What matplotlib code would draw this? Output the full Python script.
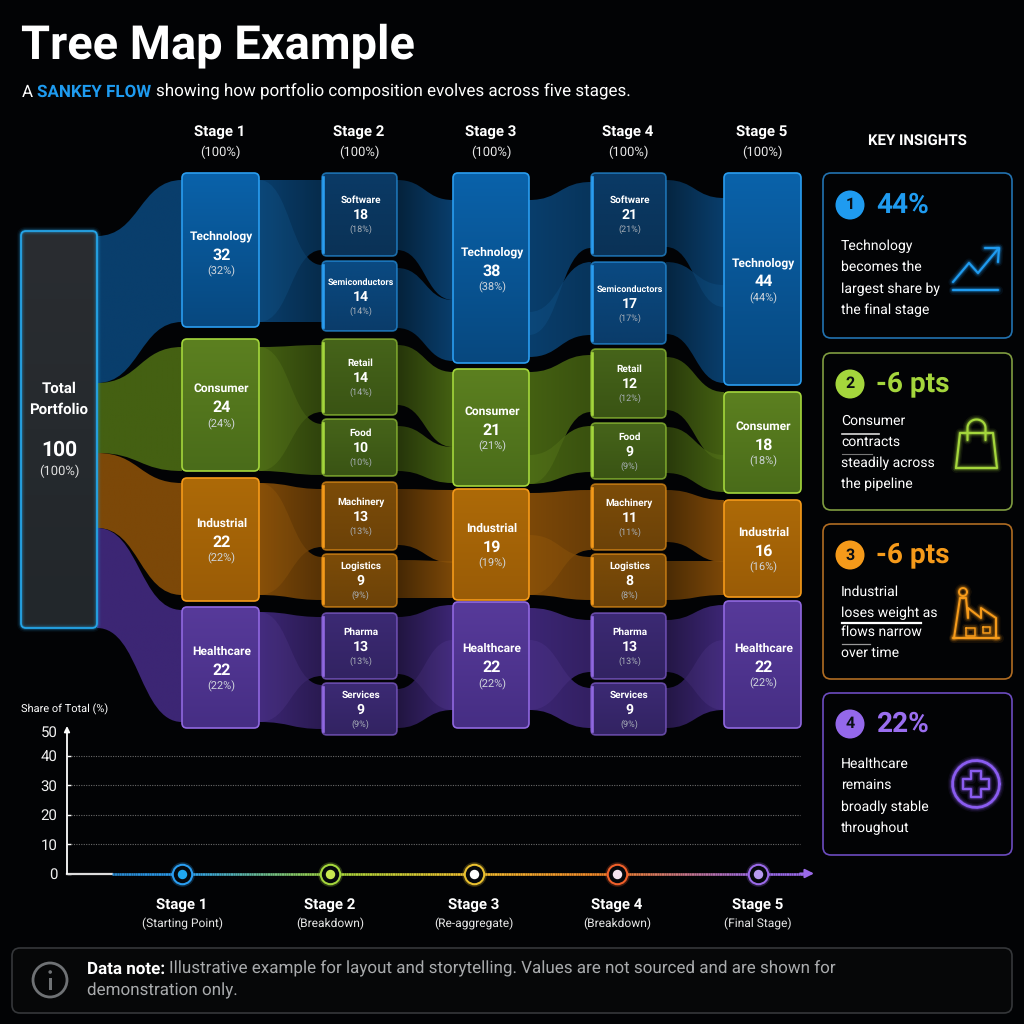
import numpy as np
import matplotlib
matplotlib.use('Agg')
import matplotlib.pyplot as plt
from matplotlib.path import Path
from matplotlib.patches import PathPatch, FancyBboxPatch, Circle, Rectangle
from matplotlib.collections import LineCollection
from matplotlib.colors import LinearSegmentedColormap, to_rgb
from matplotlib.transforms import ScaledTranslation

plt.rcParams['text.hinting'] = 'no_hinting'
plt.rcParams['text.hinting_factor'] = 1

# values
stage_names = ['Stage 1', 'Stage 2', 'Stage 3', 'Stage 4', 'Stage 5']
stage_totals = [100, 100, 100, 100, 100]
stage_notes = ['(Starting Point)', '(Breakdown)', '(Re-aggregate)', '(Breakdown)', '(Final Stage)']
sector_names = ['Technology', 'Consumer', 'Industrial', 'Healthcare']
sub_names = ['Software', 'Semiconductors', 'Retail', 'Food', 'Machinery', 'Logistics', 'Pharma', 'Services']
stage1_values = [32, 24, 22, 22]
stage2_values = [18, 14, 14, 10, 13, 9, 13, 9]
stage3_values = [38, 21, 19, 22]
stage4_values = [21, 17, 12, 9, 11, 8, 13, 9]
stage5_values = [44, 18, 16, 22]
total_value = 100
axis_ticks = [0, 10, 20, 30, 40, 50]

insight_heads = ['44%', '-6 pts', '-6 pts', '22%']
insight_lines = [['Technology', 'becomes the', 'largest share by', 'the final stage'],
                 ['Consumer', 'contracts', 'steadily across', 'the pipeline'],
                 ['Industrial', 'loses weight as', 'flows narrow', 'over time'],
                 ['Healthcare', 'remains', 'broadly stable', 'throughout']]

# layout in pixels of the 1024 canvas
FONT = ['Roboto', 'DejaVu Sans']
PX = 0.72
BG = '#020305'
BLUE, GREEN, ORANGE, PURPLE = '#2a9df0', '#a4d63c', '#f59a1a', '#9068e0'
SECTOR_COLORS = [BLUE, GREEN, ORANGE, PURPLE]
FLOW_COLORS = [(9, 62, 108), (68, 96, 18), (124, 72, 8), (60, 38, 116)]
COL_X = [(182, 259), (322, 397), (453, 529), (591, 666), (724, 801)]
HEAD_X = [220, 359, 491, 628, 762]
BIG_BOX = [[(173, 327), (339, 471), (478, 601), (607, 728)],
           None,
           [(173, 363), (369, 486), (489, 600), (602, 728)],
           None,
           [(173, 385), (392, 493), (500, 597), (601, 728)]]
SUB_BOX = {1: [(173, 256), (261, 331), (339, 415), (419, 476), (482, 550), (554, 607), (613, 679), (683, 735)],
           3: [(173, 256), (262, 344), (349, 418), (423, 479), (484, 550), (554, 607), (613, 679), (683, 735)]}
BIG_FILL = [('#0a62aa', '#07487f'), ('#5c8020', '#4a6c1a'), ('#ad6a08', '#9a5c06'), ('#573a9a', '#462e84')]
SUB_FILL = [('#0a3a66', '#0a3256'), ('#0a4a82', '#0a3c6a'), ('#46641a', '#3a5414'), ('#46641a', '#3a5414'),
            ('#7c4c08', '#6c4208'), ('#7c4c08', '#6c4208'), ('#3c2a74', '#322362'), ('#3c2a74', '#322362')]

# flow bands: colour index, x0, x1, left top, left bottom, right top, right bottom
SINGLE_FLOWS = [(0, 97, 182, 236, 383, 180, 322), (1, 97, 182, 383, 453, 347, 471),
                (2, 97, 182, 453, 528, 483, 595), (3, 97, 182, 528, 628, 610, 722)]
# pairs that leave or enter the same node, with the brightness at left and right
PAIR_FLOWS = [
    (1.0, 0.7, [(0, 259, 322, 180, 322, 180, 250), (0, 259, 322, 180, 322, 265, 322),
                (1, 259, 322, 347, 471, 345, 412), (1, 259, 322, 347, 471, 424, 475),
                (2, 259, 322, 483, 595, 489, 547), (2, 259, 322, 483, 595, 557, 600),
                (3, 259, 322, 612, 722, 617, 676), (3, 259, 322, 612, 722, 685, 729)]),
    (0.55, 1.0, [(0, 397, 453, 180, 250, 200, 300), (0, 397, 453, 268, 328, 300, 361),
                 (1, 397, 453, 345, 405, 372, 447), (1, 397, 453, 426, 471, 447, 483),
                 (2, 397, 453, 489, 545, 490, 563), (2, 397, 453, 560, 598, 561, 598),
                 (3, 397, 453, 617, 674, 605, 710), (3, 397, 453, 689, 728, 640, 710)]),
    (1.0, 0.85, [(0, 529, 591, 200, 335, 182, 248), (0, 529, 591, 312, 357, 262, 335),
                 (1, 529, 591, 372, 484, 355, 412), (1, 529, 591, 455, 484, 426, 472),
                 (2, 529, 591, 493, 595, 490, 550), (2, 529, 591, 535, 595, 557, 600),
                 (3, 529, 591, 608, 710, 620, 672), (3, 529, 591, 640, 710, 688, 728)]),
    (0.6, 1.0, [(0, 666, 724, 180, 247, 198, 307), (0, 666, 724, 262, 334, 285, 383),
                (1, 666, 724, 357, 410, 392, 460), (1, 666, 724, 427, 473, 455, 492),
                (2, 666, 724, 490, 542, 500, 562), (2, 666, 724, 561, 600, 561, 595),
                (3, 666, 724, 620, 672, 605, 710), (3, 666, 724, 688, 728, 640, 710)]),
]

CARDS = [(173, 338), (353, 510), (524, 679), (693, 855)]
CARD_EDGE = ['#2272b0', '#7f9c40', '#b06c22', '#6c4cc0']
HEAD_COL = ['#1f9bf0', '#a4d63c', '#f59a1a', '#9a6ef0']
BADGE_Y = [205, 384, 555, 724]
LINE_Y = [[246, 267, 289, 310], [421, 442, 463, 484], [592, 613, 632, 653], [764, 785, 807, 828]]

MARKER_X = [182, 330, 474, 617, 758]
MARKER_COL = ['#2a9df0', '#a4d63c', '#e8c030', '#f0602a', '#9a6ae8']
MARKER_DOT = ['#20a8f0', '#c8e850', '#ffffff', '#f4e4f0', '#b79af0']

fig = plt.figure(figsize=(10.24, 10.24), dpi=100, facecolor=BG)
ax = fig.add_axes([0, 0, 1, 1])
ax.set_facecolor(BG)
ax.axis('off')
ax.set_xlim(0, 1024)
ax.set_ylim(1024, 0)


def txt(x, y, s, px, color='white', weight='normal', ha='center', **kw):
    return ax.text(x, y + 1, s, fontsize=px * PX, color=color, fontweight=weight, ha=ha, va='center',
                   family=FONT, **kw)


def run_text(x, y, parts, px):
    # several pieces of text in a row with their own colours
    rend = fig.canvas.get_renderer()
    for s, color, weight in parts:
        t = txt(x, y, s, px, color, weight, ha='left')
        x += t.get_window_extent(rend).width


def gradient_clip(patch, x0, x1, y0, y1, c0, c1, vertical=False, z=1):
    c0, c1 = np.array(c0), np.array(c1)
    t = np.linspace(0, 1, 64)[:, None]
    img = c0 + (c1 - c0) * t
    img = img[:, None, :] if vertical else img[None, :, :]
    im = ax.imshow(img, extent=(x0, x1, y1, y0), aspect='auto', zorder=z, interpolation='bilinear')
    patch.set_transform(ax.transData)
    im.set_clip_path(patch)
    return im


def band_path(x0, x1, lt, lb, rt, rb):
    mid = (x0 + x1) / 2
    verts = [(x0, lt), (mid, lt), (mid, rt), (x1, rt), (x1, rb), (mid, rb), (mid, lb), (x0, lb), (x0, lt)]
    codes = [Path.MOVETO, Path.CURVE4, Path.CURVE4, Path.CURVE4, Path.LINETO, Path.CURVE4, Path.CURVE4, Path.CURVE4,
             Path.CLOSEPOLY]
    return Path(verts, codes)


def band(flow, left=1.0, right=1.0):
    i, x0, x1, lt, lb, rt, rb = flow
    base = np.array(FLOW_COLORS[i]) / 255
    p = PathPatch(band_path(x0, x1, lt, lb, rt, rb), fc='none', ec='none')
    gradient_clip(p, x0, x1, min(lt, rt) - 1, max(lb, rb) + 1, base * left, base * right, z=1)


def lens(a, b):
    # where two bands of a pair overlap the colour only lifts a little
    pa = PathPatch(band_path(*a[1:]), fc=SECTOR_COLORS[a[0]], ec='none', alpha=0.1, zorder=1.5)
    ax.add_patch(pa)
    pb = PathPatch(band_path(*b[1:]), transform=ax.transData)
    pa.set_clip_path(pb)


def rbox(x0, y0, x1, y1, r=5):
    return FancyBboxPatch((x0 + r, y0 + r), x1 - x0 - 2 * r, y1 - y0 - 2 * r,
                          boxstyle='round,pad=%d,rounding_size=%d' % (r, r), fc='none', ec='none')


def glow(xs, ys, color, lw=1.6, z=6, strength=1.0):
    for w, al in [(lw + 5, 0.08), (lw + 3, 0.14), (lw + 1.4, 0.25)]:
        ax.plot(xs, ys, color=color, lw=w, alpha=al * strength, zorder=z, solid_capstyle='round', solid_joinstyle='round')
    ax.plot(xs, ys, color=color, lw=lw, zorder=z + 0.1, solid_capstyle='round', solid_joinstyle='round')


def node(x0, x1, y0, y1, fills, edge, left_bar=False, edge_alpha=1.0):
    gradient_clip(rbox(x0, y0, x1, y1), x0, x1, y0, y1, to_rgb(fills[0]), to_rgb(fills[1]), vertical=True, z=3)
    ax.add_patch(FancyBboxPatch((x0 + 5, y0 + 5), x1 - x0 - 10, y1 - y0 - 10, boxstyle='round,pad=5,rounding_size=5',
                                fc='none', ec=edge, lw=1.2, alpha=edge_alpha, zorder=4))
    if left_bar:
        ax.plot([x0 + 0.6, x0 + 0.6], [y0 + 4, y1 - 4], color=edge, lw=1.9, zorder=4.1)


def labels(cx, y0, y1, name, val, big, dy=0):
    c = (y0 + y1) / 2 + dy
    off = (-17, 2, 18) if big else (-15, 0, 14)
    if big:
        name_px = 12
    else:
        name_px = 9.5 if len(name) > 12 else 10.4
    txt(cx, c + off[0], name, name_px, 'white', 'bold', zorder=5)
    txt(cx, c + off[1], str(val), 16 if big else 13.5, 'white', 'bold', zorder=5)
    txt(cx, c + off[2], '(%d%%)' % val, 11 if big else 9.5, '#d0d6dc' if big else '#a9b0b8', zorder=5)


fig.canvas.draw()
txt(21, 45, 'Tree Map Example', 46.8, 'white', 'bold', ha='left')
run_text(22, 91, [('A ', 'white', 'normal'), ('SANKEY FLOW ', '#1e9bf0', 'bold'),
                  ('showing how portfolio composition evolves across five stages.', 'white', 'normal')], 17.2)

for x, name, tot in zip(HEAD_X, stage_names, stage_totals):
    txt(x, 131, name, 14.8, 'white', 'bold')
    txt(x, 151, '(%d%%)' % tot, 13, '#e8e8e8')
txt(917, 140, 'KEY INSIGHTS', 15, 'white', 'bold')

for f in SINGLE_FLOWS:
    band(f)
for left, right, flows in PAIR_FLOWS:
    for k in range(0, len(flows), 2):
        band(flows[k], left, right)
        band(flows[k + 1], left, right)
        lens(flows[k], flows[k + 1])

# total node
gradient_clip(rbox(21, 231, 97, 628), 21, 97, 231, 628, to_rgb('#2a2d31'), to_rgb('#22272b'), vertical=True, z=3)
for w, al in [(6, 0.06), (4, 0.12), (2.6, 0.22), (1.3, 1.0)]:
    ax.add_patch(FancyBboxPatch((26, 236), 66, 387, boxstyle='round,pad=5,rounding_size=5', fc='none',
                                ec='#25a5e8', lw=w, alpha=al, zorder=4))
txt(59, 388, 'Total', 14.6, 'white', 'bold', zorder=5)
txt(59, 409, 'Portfolio', 14.6, 'white', 'bold', zorder=5)
txt(59, 449, str(total_value), 21, 'white', 'bold', zorder=5)
txt(59, 470, '(%d%%)' % total_value, 12.5, '#e0e0e0', zorder=5)

big_values = {0: stage1_values, 2: stage3_values, 4: stage5_values}
sub_values = {1: stage2_values, 3: stage4_values}
for col, vals in big_values.items():
    x0, x1 = COL_X[col]
    for i, v in enumerate(vals):
        y0, y1 = BIG_BOX[col][i]
        node(x0, x1, y0, y1, BIG_FILL[i], SECTOR_COLORS[i])
        labels((x0 + x1) / 2 + 1, y0, y1, sector_names[i], v, True, dy=2 if (col, i) == (0, 0) else 0)
for col, vals in sub_values.items():
    x0, x1 = COL_X[col]
    for i, v in enumerate(vals):
        y0, y1 = SUB_BOX[col][i]
        c = SECTOR_COLORS[i // 2]
        node(x0, x1, y0, y1, SUB_FILL[i], c, left_bar=True, edge_alpha=0.62)
        labels((x0 + x1) / 2 + 1, y0, y1, sub_names[i], v, False)

# insight cards
for i, (y0, y1) in enumerate(CARDS):
    ax.add_patch(FancyBboxPatch((831, y0 + 8), 173, y1 - y0 - 16, boxstyle='round,pad=8,rounding_size=8', fc='#020305',
                                ec=CARD_EDGE[i], lw=1.2, zorder=2))
    ax.add_patch(Circle((850, BADGE_Y[i]), 14.5, fc=HEAD_COL[i] if i != 3 else '#9468ea', ec='none', zorder=3))
    txt(850, BADGE_Y[i] - 1, str(i + 1), 15.5, '#0a0f14', 'bold', zorder=4)
    txt(876, BADGE_Y[i] - 1, insight_heads[i], 27.5, HEAD_COL[i], 'bold', ha='left', zorder=4)
    for yy, s in zip(LINE_Y[i], insight_lines[i]):
        txt(841, yy - 1, s, 14, 'white', ha='left', zorder=4)

# stray strokes under the card text
ax.plot([842, 879], [434, 434], color='white', lw=1.2, alpha=0.85, zorder=4)
ax.plot([842, 872], [454, 454], color='#777777', lw=0.8, zorder=4)
ax.plot([842, 921], [623, 623], color='white', lw=1.6, zorder=4)
ax.plot([842, 870], [644, 644], color='#999999', lw=0.9, zorder=4)

# card icons
glow([953, 969, 978, 998], [282, 263, 273, 249], '#1f9bf0')
glow([985, 999, 998], [248, 248, 262], '#1f9bf0')
glow([953, 998], [290, 290], '#1f9bf0')
glow([956, 997, 993, 960, 956], [468, 468, 433, 433, 468], GREEN)
hx = 976.5 + 9 * np.cos(np.linspace(np.pi, 0, 30))
hy = 428 - 8.5 * np.sin(np.linspace(np.pi, 0, 30))
glow(np.r_[967.5, hx, 985.5], np.r_[440, hy, 440], GREEN)
glow([953, 999], [638, 638], ORANGE, lw=1.5)
glow([954, 960, 966, 968, 968, 981, 981, 996, 996], [638, 598, 598, 618, 608, 618, 608, 618, 638], ORANGE, lw=1.5)
fh = np.linspace(0, 2 * np.pi, 30)
glow(963 + 4 * np.cos(fh), 592 + 4 * np.sin(fh), ORANGE, lw=1.4)
glow([966, 975, 975, 966, 966], [628, 628, 636, 636, 628], ORANGE, lw=1.1)
glow([983, 990, 990, 983, 983], [627, 627, 633, 633, 627], ORANGE, lw=1.1)
glow(976 + 23.5 * np.cos(fh), 784 + 23.5 * np.sin(fh), '#8a5cf0', lw=2.0)
cross_x = np.array([-5, 5, 5, 13, 13, 5, 5, -5, -5, -13, -13, -5, -5]) + 976
cross_y = np.array([-13, -13, -5, -5, 5, 5, 13, 13, 5, 5, -5, -5, -13]) + 784
glow(cross_x, cross_y, '#8a5cf0', lw=1.6)

# note box
ax.add_patch(FancyBboxPatch((20, 956), 984, 49, boxstyle='round,pad=8,rounding_size=8', fc='#060708', ec='#35373a', lw=1.2))
ax.add_patch(Circle((50, 980), 17, fc='none', ec='#6f7275', lw=2))
ax.add_patch(Rectangle((48.7, 978), 2.8, 12, fc='#6f7275', ec='none'))
ax.add_patch(Circle((50.2, 972), 1.8, fc='#6f7275', ec='none'))
run_text(87, 968, [('Data note: ', 'white', 'bold'),
                   ('Illustrative example for layout and storytelling. Values are not sourced and are shown for',
                    '#a9abad', 'normal')], 16.7)
txt(87, 990, 'demonstration only.', 16.7, '#a9abad', ha='left')

ax.set_xlim(0, 1024)
ax.set_ylim(1024, 0)

# share axis below the sankey, same x pixels as the canvas
ax2 = fig.add_axes([67 / 1024, (1024 - 873.5) / 1024, (830 - 67) / 1024, 147.5 / 1024], facecolor='none', zorder=5)
ax2.set_xlim(67, 830)
ax2.set_ylim(0, 50)
for s in ax2.spines.values():
    s.set_visible(False)
ax2.set_xticks([])
ax2.set_yticks(axis_ticks)
ax2.set_yticklabels([str(t) for t in axis_ticks], fontsize=14.5 * PX, color='#f0f0f0', family=FONT)
ax2.tick_params(axis='y', length=3, width=1, color='white', pad=7, direction='in')
ax2.yaxis.get_major_ticks()[-1].tick1line.set_visible(False)
lab50 = ax2.get_yticklabels()[-1]
lab50.set_transform(lab50.get_transform() + ScaledTranslation(0, -5 / 100, fig.dpi_scale_trans))
ax2.hlines(axis_ticks[1:-1], 71, 800, color='#6a6a6a', lw=0.8, linestyles=(0, (1, 1.2)))
ax2.annotate('', xy=(67, 50), xytext=(67, 0), arrowprops=dict(arrowstyle='-|>', color='white', lw=1.3, mutation_scale=8,
                                                                  shrinkA=0, shrinkB=0), annotation_clip=False)
ax2.plot([67, 112], [0, 0], color='#dddddd', lw=1.6, clip_on=False)

stops_x = [112, MARKER_X[0], MARKER_X[1], MARKER_X[2], MARKER_X[3], MARKER_X[4], 805]
stops_c = ['#2a8ad0', '#2a9df0', '#a4d63c', '#f5c030', '#f0802a', '#9a6ae8', '#9a6ae8']
pos = (np.array(stops_x) - stops_x[0]) / (stops_x[-1] - stops_x[0])
cmap = LinearSegmentedColormap.from_list('stages', list(zip(pos, stops_c)))
lx = np.linspace(stops_x[0], stops_x[-1], 300)
segs = np.stack([np.c_[lx[:-1], np.zeros(299)], np.c_[lx[1:], np.zeros(299)]], axis=1)
lc = LineCollection(segs, colors=cmap(np.linspace(0, 1, 299)), linewidths=1.9, zorder=3, clip_on=False)
ax2.add_collection(lc)
ax2.annotate('', xy=(814, 0), xytext=(800, 0), arrowprops=dict(arrowstyle='-|>', color='#9a6ae8', lw=1.5, mutation_scale=13,
                                                                 shrinkA=0, shrinkB=0), annotation_clip=False)

for x, c, d, name, note in zip(MARKER_X, MARKER_COL, MARKER_DOT, stage_names, stage_notes):
    ax2.plot([x], [0], 'o', ms=16.5, mfc='none', mec=c, mew=1.2, alpha=0.25, clip_on=False, zorder=4)
    ax2.plot([x], [0], 'o', ms=14, mfc='#05080c', mec=c, mew=1.5, clip_on=False, zorder=5)
    ax2.plot([x], [0], 'o', ms=6.8, mfc=d, mec='none', clip_on=False, zorder=6)
    txt(x, 904, name, 14.6, 'white', 'bold')
    txt(x, 923, note, 12, '#e6e6e6')

txt(21, 708, 'Share of Total (%)', 11.2, 'white', ha='left')

plt.savefig('out.png', dpi=100, facecolor=BG)
